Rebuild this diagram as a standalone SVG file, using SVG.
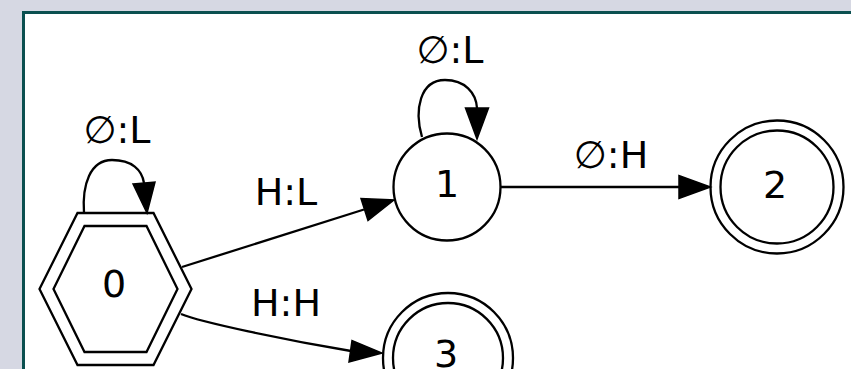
<svg xmlns="http://www.w3.org/2000/svg" width="851" height="369" viewBox="0 0 851 369">
  <style>
    .shape { fill: none; stroke: #000; stroke-width: 2.3; }
    .edge { fill: none; stroke: #000; stroke-width: 2.3; }
    .head { fill: #000; stroke: #000; stroke-width: 1.5; stroke-linejoin: miter; }
    text { font-family: "DejaVu Sans", "Liberation Sans", sans-serif; font-size: 38px; fill: #000; text-anchor: middle; }
  </style>

  <!-- page background and framed canvas -->
  <rect x="0" y="0" width="851" height="369" fill="#d6d8e3"/>
  <rect x="23.5" y="12.5" width="840" height="370" fill="#fff" stroke="#0b5050" stroke-width="3"/>

  <!-- state 0: initial + accepting (double hexagon) -->
  <g id="node0">
    <polygon class="shape" points="39.5,289 77.5,213 153.5,213 191.5,289 153.5,365 77.5,365"/>
    <polygon class="shape" points="53.5,289 84.5,226 146.5,226 177.5,289 146.5,352 84.5,352"/>
    <text x="114" y="297">0</text>
  </g>

  <!-- state 1 -->
  <g id="node1">
    <circle class="shape" cx="447" cy="187" r="53.5"/>
    <text x="447" y="197">1</text>
  </g>

  <!-- state 2: accepting -->
  <g id="node2">
    <circle class="shape" cx="777" cy="187" r="66.5"/>
    <circle class="shape" cx="777" cy="187" r="56.5"/>
    <text x="775" y="198">2</text>
  </g>

  <!-- state 3: accepting -->
  <g id="node3">
    <circle class="shape" cx="448" cy="358" r="65"/>
    <circle class="shape" cx="448" cy="358" r="55"/>
    <text x="446" y="367">3</text>
  </g>

  <!-- transitions -->
  <g id="edges">
    <!-- 0 -> 0 -->
    <path class="edge" d="M84,213 C82,185 90,160 112,160 C132,160 142,170 144,183"/>
    <polygon class="head" points="133,184 155,182 147,213"/>
    <text x="117" y="143">∅:L</text>

    <!-- 0 -> 1 -->
    <path class="edge" d="M182,267 L364,209.5"/>
    <polygon class="head" points="361,198.5 368,220.5 394,200"/>
    <text x="286" y="205">H:L</text>

    <!-- 0 -> 3 -->
    <path class="edge" d="M181,314 C200,322 285,340 351,351"/>
    <polygon class="head" points="352,340.5 349,362 382,353"/>
    <text x="286" y="316">H:H</text>

    <!-- 1 -> 1 -->
    <path class="edge" d="M422,137 C414,110 420,80 445,80 C465,80 476,93 477,108"/>
    <polygon class="head" points="465.5,108 488.5,108 477,139"/>
    <text x="450" y="63">∅:L</text>

    <!-- 1 -> 2 -->
    <path class="edge" d="M500.5,187 L679,187"/>
    <polygon class="head" points="679,175.5 679,198.5 710.5,187"/>
    <text x="611" y="168">∅:H</text>
  </g>
</svg>
